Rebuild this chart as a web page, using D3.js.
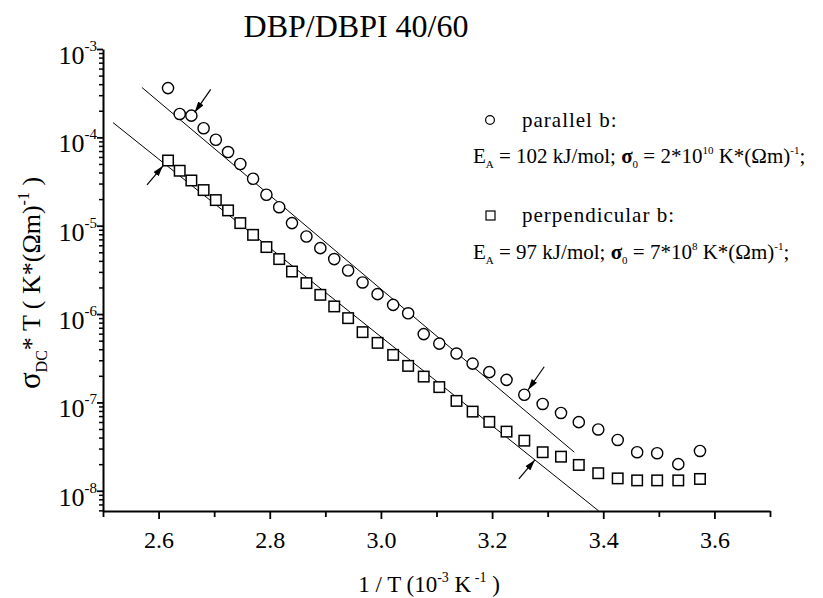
<!DOCTYPE html>
<html>
<head>
<meta charset="utf-8">
<script src="https://cdn.jsdelivr.net/npm/d3@7"></script>
<style>
  body { margin: 0; background: #fff; }
  svg text { font-family: "Liberation Serif", "Times New Roman", serif; fill: #000; }
</style>
</head>
<body>
<div id="chart"></div>
<script>
    // 1/T in 10^-3 K^-1 (same temperatures for both orientations)
    var invT = [2.617, 2.638, 2.659, 2.681, 2.703, 2.725, 2.747, 2.770, 2.794, 2.817,
        2.840, 2.866, 2.891, 2.916, 2.941, 2.967, 2.994, 3.022, 3.049, 3.077,
        3.105, 3.136, 3.165, 3.195, 3.226, 3.258, 3.291, 3.324, 3.356, 3.391,
        3.426, 3.461, 3.497, 3.535, 3.574];

    // sigma_DC * T, parallel b (circles)
    var sigmaPar = [3.61e-4, 1.84e-4, 1.76e-4, 1.27e-4, 9.4e-5, 6.82e-5, 4.99e-5, 3.40e-5, 2.24e-5, 1.62e-5,
        1.07e-5, 7.55e-6, 5.57e-6, 4.19e-6, 3.11e-6, 2.28e-6, 1.68e-6, 1.27e-6, 1.02e-6, 5.93e-7,
        4.63e-7, 3.57e-7, 2.75e-7, 2.20e-7, 1.80e-7, 1.22e-7, 9.6e-8, 7.6e-8, 5.98e-8, 4.94e-8,
        3.76e-8, 2.73e-8, 2.66e-8, 2.00e-8, 2.82e-8];

    // sigma_DC * T, perpendicular b (squares)
    var sigmaPerp = [5.47e-5, 4.19e-5, 3.25e-5, 2.53e-5, 1.95e-5, 1.49e-5, 1.07e-5, 7.88e-6, 5.73e-6, 4.19e-6,
        3.03e-6, 2.24e-6, 1.65e-6, 1.22e-6, 8.99e-7, 6.24e-7, 4.72e-7, 3.45e-7, 2.59e-7, 1.96e-7,
        1.49e-7, 1.04e-7, 7.87e-8, 6.02e-8, 4.67e-8, 3.69e-8, 2.73e-8, 2.43e-8, 1.96e-8, 1.58e-8,
        1.38e-8, 1.31e-8, 1.31e-8, 1.31e-8, 1.36e-8];

    // Arrhenius fit lines (end points)
    var fitParX = [2.570, 3.348];
    var fitParY = [3.67e-4, 2.73e-8];
    var fitPerpX = [2.518, 3.392];
    var fitPerpY = [1.47e-4, 5.9e-9];

    // arrows marking the fit range
    var arrowX = [2.665, 2.608, 3.265, 3.277];
    var arrowY = [1.92e-4, 4.76e-5, 1.39e-7, 2.23e-8];
    var arrowFrom = ["above", "below", "above", "below"];

    var xTicks = [2.6, 2.8, 3.0, 3.2, 3.4, 3.6];
    var xMinor = [2.5, 2.7, 2.9, 3.1, 3.3, 3.5, 3.7];
    var yExponents = [-8, -7, -6, -5, -4, -3];

    var svgWidth = 823;
    var svgHeight = 598;

    var margin = {
        top: 49,
        bottom: 87,
        left: 103,
        right: 53
    };

    var plot_width = svgWidth - margin.left - margin.right;
    var plot_height = svgHeight - margin.top - margin.bottom;

    var svg = d3.select("#chart")
        .append("svg")
        .attr("width", svgWidth)
        .attr("height", svgHeight);

    var chartGroup = svg.append("g")
        .attr("transform", `translate(${margin.left}, ${margin.top})`);

    var xScale = d3.scaleLinear()
        .domain([2.5, 3.7])
        .range([0, plot_width]);

    var yScale = d3.scaleLog()
        .domain([5.9e-9, 1e-3])
        .range([plot_height, 0]);

    // minor log ticks 2..9 in each decade
    var yMinor = [];
    for (var e = -9; e <= -4; e++) {
        for (var m = 2; m <= 9; m++) {
            var v = m * Math.pow(10, e);
            if (v >= 5.9e-9 && v < 1e-3) yMinor.push(v);
        }
    }
    var yMajor = yExponents.map(e => Math.pow(10, e));

    // y axis
    chartGroup.append("g")
        .call(d3.axisLeft(yScale).tickValues(yMinor).tickSize(4).tickSizeOuter(0).tickFormat(""))
        .call(g => g.select(".domain").remove())
        .selectAll("line").attr("stroke-width", 1.5);

    var yAxisG = chartGroup.append("g")
        .call(d3.axisLeft(yScale).tickValues(yMajor).tickSize(6).tickSizeOuter(0).tickFormat(""));
    yAxisG.select(".domain").attr("stroke-width", 2);
    yAxisG.selectAll("line").attr("stroke-width", 1.8);

    var yLabels = chartGroup.append("g")
        .selectAll("text")
        .data(yExponents)
        .enter()
        .append("text")
        .attr("x", -6)
        .attr("y", d => yScale(Math.pow(10, d)) + 15)
        .attr("text-anchor", "end")
        .attr("font-size", "26px");
    yLabels.append("tspan").text("10");
    yLabels.append("tspan")
        .attr("font-size", "15px")
        .attr("dy", -13)
        .text(d => "-" + Math.abs(d));

    // x axis
    chartGroup.append("g")
        .attr("transform", `translate(0, ${plot_height})`)
        .call(d3.axisBottom(xScale).tickValues(xMinor).tickSize(6).tickSizeOuter(0).tickFormat(""))
        .call(g => g.select(".domain").remove())
        .selectAll("line").attr("stroke-width", 1.8);

    var xAxisG = chartGroup.append("g")
        .attr("transform", `translate(0, ${plot_height})`)
        .call(d3.axisBottom(xScale).tickValues(xTicks).tickSize(8).tickSizeOuter(0).tickFormat(d3.format(".1f")));
    xAxisG.select(".domain").attr("stroke-width", 2);
    xAxisG.selectAll("line").attr("stroke-width", 1.8);
    xAxisG.selectAll("text")
        .attr("font-size", "24px")
        .attr("dy", null)
        .attr("y", 37);

    // fit lines
    var line = d3.line()
        .x(d => xScale(d[0]))
        .y(d => yScale(d[1]));

    chartGroup.append("path")
        .datum(d3.zip(fitParX, fitParY))
        .attr("d", line)
        .attr("fill", "none")
        .attr("stroke", "black")
        .attr("stroke-width", 1);

    chartGroup.append("path")
        .datum(d3.zip(fitPerpX, fitPerpY))
        .attr("d", line)
        .attr("fill", "none")
        .attr("stroke", "black")
        .attr("stroke-width", 1);

    // data points
    chartGroup.append("g")
        .selectAll("circle")
        .data(d3.zip(invT, sigmaPar))
        .enter()
        .append("circle")
        .attr("cx", d => xScale(d[0]))
        .attr("cy", d => yScale(d[1]))
        .attr("r", 5.6)
        .attr("fill", "white")
        .attr("stroke", "black")
        .attr("stroke-width", 1.4);

    var sq = 10.5;
    chartGroup.append("g")
        .selectAll("rect")
        .data(d3.zip(invT, sigmaPerp))
        .enter()
        .append("rect")
        .attr("x", d => xScale(d[0]) - sq / 2)
        .attr("y", d => yScale(d[1]) - sq / 2)
        .attr("width", sq)
        .attr("height", sq)
        .attr("fill", "white")
        .attr("stroke", "black")
        .attr("stroke-width", 1.5);

    // arrows
    svg.append("defs").append("marker")
        .attr("id", "head")
        .attr("viewBox", "0 0 10 6")
        .attr("refX", 10)
        .attr("refY", 3)
        .attr("markerWidth", 11)
        .attr("markerHeight", 6.5)
        .attr("markerUnits", "userSpaceOnUse")
        .attr("orient", "auto")
        .append("path")
        .attr("d", "M0,0 L10,3 L0,6 Z")
        .attr("fill", "black");

    chartGroup.append("g")
        .selectAll("line")
        .data(d3.zip(arrowX, arrowY, arrowFrom))
        .enter()
        .append("line")
        .attr("x1", d => xScale(d[0]) + (d[2] == "above" ? 16 : -16))
        .attr("y1", d => yScale(d[1]) + (d[2] == "above" ? -23 : 19))
        .attr("x2", d => xScale(d[0]))
        .attr("y2", d => yScale(d[1]))
        .attr("stroke", "black")
        .attr("stroke-width", 1.2)
        .attr("marker-end", "url(#head)");

    // title
    svg.append("text")
        .attr("x", 356)
        .attr("y", 37)
        .attr("text-anchor", "middle")
        .attr("font-size", "32px")
        .text("DBP/DBPI 40/60");

    // x label
    var xLab = svg.append("text")
        .attr("x", 429)
        .attr("y", 592)
        .attr("text-anchor", "middle")
        .attr("font-size", "23px");
    xLab.append("tspan").text("1 / T (10");
    xLab.append("tspan").attr("font-size", "14px").attr("dy", -10).text("-3");
    xLab.append("tspan").attr("dy", 10).text(" K");
    xLab.append("tspan").attr("font-size", "14px").attr("dy", -10).text(" -1");
    xLab.append("tspan").attr("dy", 10).text(" )");

    // y label
    var yLab = svg.append("text")
        .attr("transform", "translate(40, 283) rotate(-90)")
        .attr("text-anchor", "middle")
        .attr("font-size", "26px");
    yLab.append("tspan").attr("font-size", "31px").text("σ");
    yLab.append("tspan").attr("font-size", "16px").attr("dy", 7).text("DC");
    yLab.append("tspan").attr("dy", -7).text("* T ( K*(Ωm)");
    yLab.append("tspan").attr("font-size", "16px").attr("dy", -11).text("-1");
    yLab.append("tspan").attr("dy", 11).text(" )");

    // legend
    var legend = svg.append("g");

    legend.append("circle")
        .attr("cx", 490).attr("cy", 120).attr("r", 4.4)
        .attr("fill", "white").attr("stroke", "black").attr("stroke-width", 1.2);
    legend.append("text")
        .attr("x", 522).attr("y", 127)
        .attr("font-size", "21px")
        .attr("letter-spacing", "1px")
        .text("parallel b:");

    legend.append("rect")
        .attr("x", 486).attr("y", 211).attr("width", 9).attr("height", 9)
        .attr("fill", "white").attr("stroke", "black").attr("stroke-width", 1.2);
    legend.append("text")
        .attr("x", 522).attr("y", 222)
        .attr("font-size", "21px")
        .attr("letter-spacing", "1px")
        .text("perpendicular b:");

    function eaLine(y, ea, mant, expo) {
        var t = legend.append("text")
            .attr("x", 473).attr("y", y)
            .attr("font-size", "21px");
        t.append("tspan").text("E");
        t.append("tspan").attr("font-size", "11px").attr("dy", 5).text("A");
        t.append("tspan").attr("dy", -5).text(" = " + ea + " kJ/mol; ");
        t.append("tspan").attr("font-weight", "bold").text("σ");
        t.append("tspan").attr("font-size", "11px").attr("dy", 5).text("0");
        t.append("tspan").attr("dy", -5).text(" = " + mant + "*10");
        t.append("tspan").attr("font-size", "11px").attr("dy", -9).text(expo);
        t.append("tspan").attr("dy", 9).text(" K*(Ωm)");
        t.append("tspan").attr("font-size", "11px").attr("dy", -9).text("-1");
        t.append("tspan").attr("dy", 9).text(";");
    }
    eaLine(163, 102, 2, "10");
    eaLine(259, 97, 7, "8");
</script>
</body>
</html>
